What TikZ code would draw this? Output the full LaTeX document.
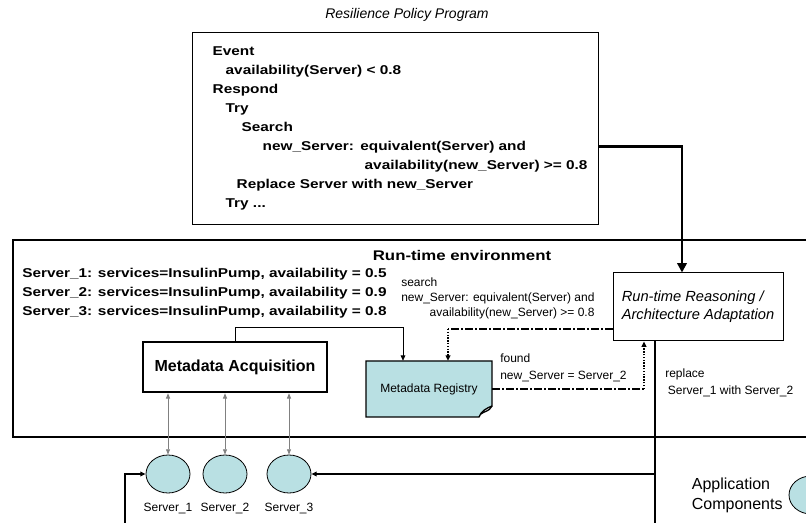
\documentclass[tikz,border=0pt]{standalone}
\usepackage{fontspec}
\setmainfont{Liberation Sans}
\newfontfamily\widesans[FakeStretch=1.2]{Liberation Sans}
\usetikzlibrary{positioning,shapes.geometric,arrows.meta,backgrounds}
\definecolor{compfill}{RGB}{185,224,227}

\begin{document}
\begin{tikzpicture}[x=0.75pt,y=-0.75pt,
  codetext/.style={font=\widesans\fontsize{9.6}{14.25}\selectfont\bfseries},
  smalltext/.style={font=\fontsize{9}{12.75}\selectfont},
  comp/.style={ellipse,draw,line width=0.6pt,fill=compfill,minimum width=33pt,minimum height=28.5pt,inner sep=0pt},
  dashdot/.style={line width=1.3pt,dash pattern=on 6pt off 1.5pt on 1.5pt off 1.5pt},
  dots/.style={line width=1.3pt,dash pattern=on 1pt off 1.1pt},
  heavy/.style={line width=1.6pt},
  tip/.style={-{Triangle[length=4pt,width=3.5pt]}}]
   \useasboundingbox (0,0) rectangle (806,523);
   % policy program
   \node[font=\fontsize{10.5}{12}\selectfont\itshape] (ptitle) at (407,15) {Resilience Policy Program};
   \node[draw,line width=1pt,anchor=north west,minimum height=144pt,text width=274.5pt,inner xsep=15pt,align=left,codetext] (policy) at (192,32) {Event\\
     \hspace*{9.75pt}availability(Server) < 0.8\\
     Respond\\
     \hspace*{9.75pt}Try\\
     \hspace*{21.75pt}Search\\
     \hspace*{37.5pt}new\_Server: equivalent(Server) and\\
     \hspace*{114pt}\mbox{availability(new\_Server) >= 0.8}\\
     \hspace*{18pt}Replace Server with new\_Server\\
     \hspace*{9.75pt}Try ...};
   % run-time environment
   \draw[line width=2pt] (806,240) -- (13,240) -- (13,437) -- (806,437);
   \node[font=\widesans\fontsize{10.5}{12}\selectfont\bfseries] (envtitle) at (462,255) {Run-time environment};
   \node[codetext,anchor=north west,align=left,inner sep=0pt] (servers) at (22,268) {Server\_1: services=InsulinPump, availability = 0.5\\
     Server\_2: services=InsulinPump, availability = 0.9\\
     Server\_3: services=InsulinPump, availability = 0.8};
   \node[draw,line width=1.8pt,minimum width=138pt,minimum height=37.5pt,font=\fontsize{12}{14}\selectfont\bfseries] (acq) at (235,367) {Metadata Acquisition};
   \node[smalltext,minimum width=94.5pt,minimum height=42pt] (reg) at (429,389) {Metadata Registry};
   \begin{pgfonlayer}{background}
     \draw[fill=compfill,line width=1pt] (366,361) -- (492,361) -- (492,406) .. controls (487,408) and (481,411) .. (479,417) -- (366,417) -- cycle;
     \draw[line width=1pt] (492,406) .. controls (489,412) and (484,411) .. (481,414);
   \end{pgfonlayer}
   \node[draw,line width=0.75pt,minimum width=127.5pt,minimum height=51pt,align=left,font=\fontsize{11}{13.5}\selectfont\itshape] (reason) at (698,307) {Run-time Reasoning /\\ Architecture Adaptation};
   \node[smalltext,anchor=north west,inner sep=0pt] (searchlbl) at (401,276) {\fontsize{9}{11.25}\selectfont\begin{tabular}{@{}l@{}}search\\ new\_Server: equivalent(Server) and\\ \hfill availability(new\_Server) >= 0.8\end{tabular}};
   \node[smalltext,anchor=north west,align=left,inner sep=0pt] (foundlbl) at (500,354) {found\\ new\_Server = Server\_2};
   \node[smalltext,anchor=north west,align=left,inner sep=0pt] (replbl) at (665,369) {replace\\ \hspace*{2pt}Server\_1 with Server\_2};
   % application components
   \node[comp] (s1) at (168,474) {};
   \node[comp] (s2) at (225,474) {};
   \node[comp] (s3) at (289,474) {};
   \node[smalltext,below=4pt of s1] (l1) {Server\_1};
   \node[smalltext,below=4pt of s2] (l2) {Server\_2};
   \node[smalltext,below=4pt of s3] (l3) {Server\_3};
   \node[comp] (app) at (811,495) {};
   \node[font=\fontsize{12}{15}\selectfont,align=left,left=1pt of app] (applbl) {Application\\ Components};
   % connectors
   \coordinate (qbend) at (448,329);
   \coordinate (fbend) at (644,389);
   \coordinate (rbranch) at (655,474);
   \coordinate (rdown) at (655,560);
   \coordinate (ldown) at (125,560);
   \draw[line width=2pt,-{Triangle[length=7pt,width=7pt]}] ([yshift=-13.5pt]policy.east) -| ([xshift=-12pt]reason.north);
   \draw[line width=0.6pt,tip] (acq.north) -- ++(0,-13) -| ([xshift=-19.5pt]reg.north);
   \draw[dashdot] (reason.west |- qbend) -- (qbend);
   \draw[dots,tip] (qbend) -- (qbend |- reg.north);
   \draw[dashdot] (reg.east) -- (fbend);
   \draw[dots,tip] (fbend) -- (fbend |- reason.south);
   \foreach \s in {s1,s2,s3}
     \draw[gray,line width=0.6pt,{Triangle[length=4pt,width=3pt]}-{Triangle[length=4pt,width=3pt]}] (\s.north |- acq.south) -- (\s.north);
   \draw[heavy,tip] ([xshift=-32.25pt]reason.south) -- (rdown) -- (ldown) |- (s1.west);
   \draw[heavy,tip] (rbranch) -- (s3.east);
\end{tikzpicture}
\end{document}
